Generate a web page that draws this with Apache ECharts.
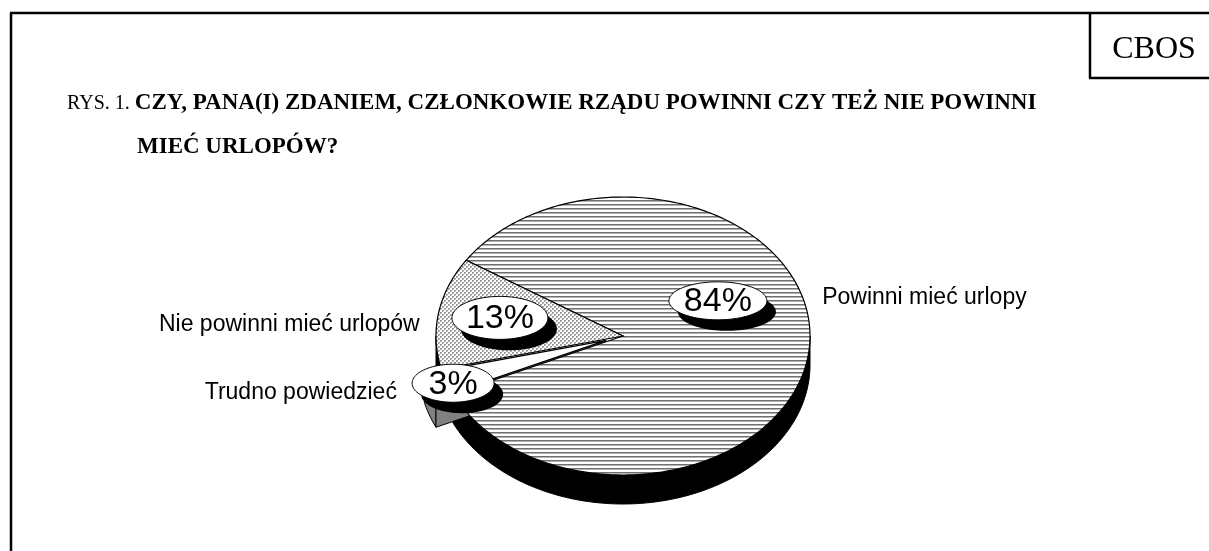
<!DOCTYPE html>
<html>
<head>
<meta charset="utf-8">
<script src="https://cdn.jsdelivr.net/npm/echarts@6/dist/echarts.min.js"></script>
<style>
html,body{margin:0;padding:0;background:#fff;}
#main{width:1209px;height:551px;}
</style>
</head>
<body>
<div id="main"></div>
<script>
// ---- data ----
const categories = ['Powinni mieć urlopy', 'Nie powinni mieć urlopów', 'Trudno powiedzieć'];
const values = [84, 13, 3];
const valueLabels = ['84%', '13%', '3%'];
const titleLine1Prefix = 'RYS. 1. ';
const titleLine1 = 'CZY, PANA(I) ZDANIEM, CZŁONKOWIE RZĄDU POWINNI CZY TEŻ NIE POWINNI';
const titleLine2 = 'MIEĆ URLOPÓW?';
const sourceLabel = 'CBOS';

// ---- layout / style (not data) ----
const PIE = { cx: 623, cy: 336, rx: 187, ry: 139, depth: 29, startAngle: 515.4 };
const explode = [0, 0, 18];
const sideColors = ['#000000', '#000000', '#808080'];
const bubbleLayout = [
  { ang: -26.5, r: 0.567, rx: 49, ry: 19 },
  { ang: 191.2, r: 0.671, rx: 48, ry: 21.5 },
  { ang: 159.5, r: 0.97, rx: 41, ry: 19 }
];
const catLayout = [
  { ang: -14.5, r: 1.1, align: 'left' },
  { ang: 184.2, r: 1.09, align: 'right' },
  { ang: 161.5, r: 1.275, align: 'right' }
];

// patterns
function stripePattern() {
  const c = document.createElement('canvas'); c.width = 4; c.height = 4;
  const g = c.getContext('2d');
  g.fillStyle = '#ffffff'; g.fillRect(0, 0, 4, 4);
  g.fillStyle = '#6e6e6e'; g.fillRect(0, 0, 4, 1);
  g.fillStyle = '#b4b4b4'; g.fillRect(0, 1, 4, 1);
  return c;
}
function dotPattern() {
  const c = document.createElement('canvas'); c.width = 4; c.height = 4;
  const g = c.getContext('2d');
  g.fillStyle = '#ffffff'; g.fillRect(0, 0, 4, 4);
  g.fillStyle = '#9a9a9a';
  g.fillRect(0, 0, 2, 2); g.fillRect(2, 2, 2, 2);
  g.fillStyle = '#d0d0d0';
  g.fillRect(1, 1, 1, 1); g.fillRect(3, 3, 1, 1);
  return c;
}
const topFills = [
  { image: stripePattern(), repeat: 'repeat' },
  { image: dotPattern(), repeat: 'repeat' },
  '#ffffff'
];

const total = values.reduce((a, b) => a + b, 0);
const angles = (() => {
  let a = PIE.startAngle;
  return values.map(v => { const a1 = a; const a0 = a - v / total * 360; a = a0; return [a0, a1]; });
})();
const rad = d => d * Math.PI / 180;
function offsetOf(i) {
  const m = rad((angles[i][0] + angles[i][1]) / 2);
  return [explode[i] * Math.cos(m), explode[i] * Math.sin(m) * PIE.ry / PIE.rx];
}
function pt(th, off, dz) {
  return [PIE.cx + off[0] + PIE.rx * Math.cos(rad(th)), PIE.cy + off[1] + PIE.ry * Math.sin(rad(th)) + (dz || 0)];
}
function arcPts(a, b, off, dz) {
  const pts = []; const n = Math.max(2, Math.ceil(Math.abs(b - a)));
  for (let k = 0; k <= n; k++) pts.push(pt(a + (b - a) * k / n, off, dz));
  return pts;
}

function renderSide(params) {
  const i = params.dataIndex;
  const [a0, a1] = angles[i];
  const off = offsetOf(i);
  const children = [];
  for (let k = -1; k <= 2; k++) {
    const s = Math.max(a0, k * 360), e = Math.min(a1, k * 360 + 180);
    if (e > s) {
      const pts = arcPts(s, e, off, 0).concat(arcPts(e, s, off, PIE.depth));
      children.push({ type: 'polygon', shape: { points: pts },
        style: { fill: sideColors[i], stroke: '#000', lineWidth: 1 } });
    }
  }
  if (explode[i] > 0) {
    const c0 = [PIE.cx + off[0], PIE.cy + off[1]];
    const faces = [];
    if (Math.cos(rad(a0)) < 0) faces.push(a0);
    if (Math.cos(rad(a1)) > 0) faces.push(a1);
    faces.forEach(a => {
      const p = pt(a, off, 0);
      children.push({ type: 'polygon', shape: { points: [c0, p, [p[0], p[1] + PIE.depth], [c0[0], c0[1] + PIE.depth]] },
        style: { fill: sideColors[i], stroke: '#000', lineWidth: 1 } });
    });
  }
  return { type: 'group', children };
}

function renderTop(params) {
  const i = params.dataIndex;
  const [a0, a1] = angles[i];
  const off = offsetOf(i);
  const pts = [[PIE.cx + off[0], PIE.cy + off[1]]].concat(arcPts(a0, a1, off, 0));
  return { type: 'polygon', shape: { points: pts },
    style: { fill: topFills[i], stroke: '#000', lineWidth: 1.2, lineJoin: 'miter' } };
}

function ellipsePts(cx, cy, rx, ry) {
  const p = [];
  for (let k = 0; k < 90; k++) { const t = k / 90 * Math.PI * 2; p.push([cx + rx * Math.cos(t), cy + ry * Math.sin(t)]); }
  return p;
}

function renderLabel(params) {
  const i = params.dataIndex;
  const b = bubbleLayout[i];
  const bx = PIE.cx + b.r * PIE.rx * Math.cos(rad(b.ang));
  const by = PIE.cy + b.r * PIE.ry * Math.sin(rad(b.ang));
  const c = catLayout[i];
  const lx = PIE.cx + c.r * PIE.rx * Math.cos(rad(c.ang));
  const ly = PIE.cy + c.r * PIE.ry * Math.sin(rad(c.ang));
  return { type: 'group', children: [
    { type: 'polygon', shape: { points: ellipsePts(bx + 9, by + 11, b.rx, b.ry) }, style: { fill: '#000' } },
    { type: 'polygon', shape: { points: ellipsePts(bx, by, b.rx, b.ry) }, style: { fill: '#fff', stroke: '#000', lineWidth: 1 } },
    { type: 'text', style: { text: valueLabels[i], x: bx, y: by + 1, align: 'center', verticalAlign: 'middle',
        fontFamily: 'Liberation Sans, Arial, sans-serif', fontSize: 34, fill: '#000' } },
    { type: 'text', style: { text: categories[i], x: lx, y: ly, align: c.align, verticalAlign: 'middle',
        fontFamily: 'Liberation Sans, Arial, sans-serif', fontSize: 23, fill: '#000' } }
  ] };
}

const seriesData = values.map((v, i) => ({ value: v, name: categories[i] }));
const chart = echarts.init(document.getElementById('main'), null, { renderer: 'canvas' });
chart.setOption({
  animation: false,
  backgroundColor: '#ffffff',
  title: [
    { text: '{r|' + titleLine1Prefix + '}{b|' + titleLine1 + '}', left: 62, top: 87,
      textStyle: { rich: {
        r: { fontFamily: 'Liberation Serif, Times New Roman, serif', fontSize: 20, fontWeight: 'normal', color: '#000' },
        b: { fontFamily: 'Liberation Serif, Times New Roman, serif', fontSize: 23, fontWeight: 'bold', color: '#000' } } } },
    { text: titleLine2, left: 132, top: 131,
      textStyle: { fontFamily: 'Liberation Serif, Times New Roman, serif', fontSize: 23, fontWeight: 'bold', color: '#000' } },
    { text: sourceLabel, left: 1149, top: 45, textAlign: 'center', textVerticalAlign: 'middle',
      textStyle: { fontFamily: 'Liberation Serif, Times New Roman, serif', fontSize: 32, fontWeight: 'normal', color: '#000' } }
  ],
  graphic: [
    { type: 'line', shape: { x1: 11, y1: 13, x2: 11, y2: 551 }, style: { stroke: '#000', lineWidth: 2.5 } },
    { type: 'line', shape: { x1: 10, y1: 13, x2: 1209, y2: 13 }, style: { stroke: '#000', lineWidth: 2.5 } },
    { type: 'line', shape: { x1: 1090, y1: 13, x2: 1090, y2: 78 }, style: { stroke: '#000', lineWidth: 2.5 } },
    { type: 'line', shape: { x1: 1089, y1: 78, x2: 1209, y2: 78 }, style: { stroke: '#000', lineWidth: 2.5 } }
  ],
  series: [
    { type: 'custom', coordinateSystem: 'none', z: 1, data: seriesData, renderItem: renderSide },
    { type: 'custom', coordinateSystem: 'none', z: 2, data: seriesData, renderItem: renderTop },
    { type: 'custom', coordinateSystem: 'none', z: 3, data: seriesData, renderItem: renderLabel }
  ]
});
</script>
</body>
</html>
